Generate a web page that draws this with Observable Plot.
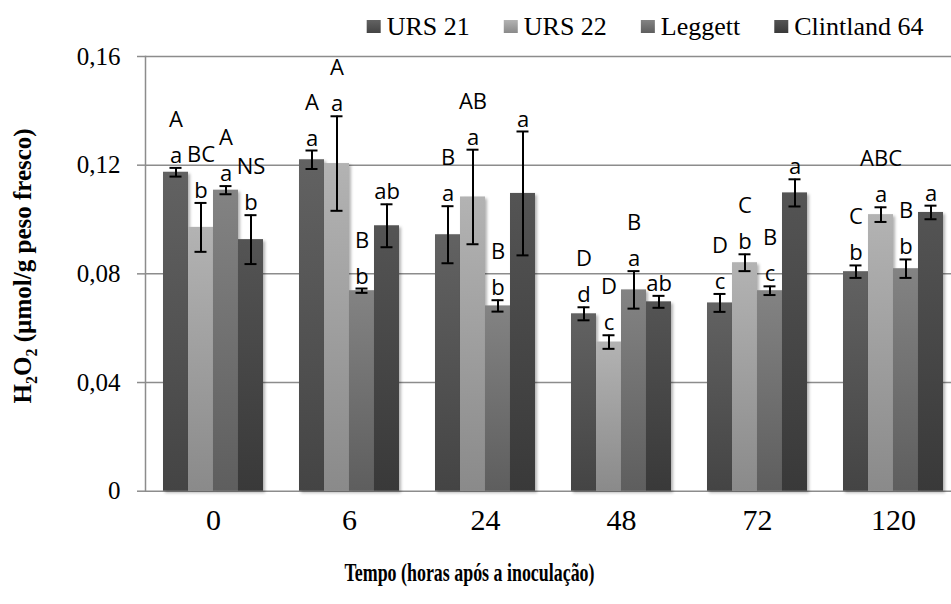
<!DOCTYPE html>
<html><head><meta charset="utf-8">
<script src="https://cdn.jsdelivr.net/npm/d3@7"></script>
<script src="https://cdn.jsdelivr.net/npm/@observablehq/plot@0.6"></script>
<style>
html, body { margin:0; padding:0; background:#fff; }
#chart { width:951px; height:604px; overflow:hidden; position:relative; }
#chart > svg { display:block; }
g[aria-label="bar"] rect { filter: drop-shadow(2px 2px 1.5px rgba(0,0,0,0.3)); }
</style></head>
<body>
<svg width="0" height="0" style="position:absolute">
<defs>
<linearGradient id="g0" x1="0" y1="0" x2="0" y2="1"><stop offset="0" stop-color="#626262"/><stop offset="1" stop-color="#444444"/></linearGradient>
<linearGradient id="g1" x1="0" y1="0" x2="0" y2="1"><stop offset="0" stop-color="#b3b3b3"/><stop offset="1" stop-color="#8a8a8a"/></linearGradient>
<linearGradient id="g2" x1="0" y1="0" x2="0" y2="1"><stop offset="0" stop-color="#838383"/><stop offset="1" stop-color="#5e5e5e"/></linearGradient>
<linearGradient id="g3" x1="0" y1="0" x2="0" y2="1"><stop offset="0" stop-color="#545454"/><stop offset="1" stop-color="#393939"/></linearGradient>
</defs></svg>
<div id="chart"></div>
<script>
// ---- data ----
const times = ["0", "6", "24", "48", "72", "120"];
const series = ["URS 21", "URS 22", "Leggett", "Clintland 64"];

const urs21     = [0.1174, 0.1220, 0.0944, 0.0653, 0.0693, 0.0808];
const urs21Err  = [0.0016, 0.0034, 0.0105, 0.0024, 0.0033, 0.0023];
const urs22     = [0.0971, 0.1206, 0.1083, 0.0549, 0.0841, 0.1018];
const urs22Err  = [0.0090, 0.0174, 0.0174, 0.0025, 0.0031, 0.0027];
const leggett   = [0.1108, 0.0738, 0.0682, 0.0741, 0.0738, 0.0819];
const leggettErr= [0.0015, 0.0008, 0.0021, 0.0069, 0.0016, 0.0034];
const clint     = [0.0926, 0.0977, 0.1096, 0.0697, 0.1098, 0.1026];
const clintErr  = [0.0090, 0.0079, 0.0228, 0.0022, 0.0050, 0.0025];

const urs21Lower   = ["a", "a", "a", "d", "c", "b"];
const urs22Lower   = ["b", "a", "a", "c", "b", "a"];
const leggettLower = ["a", "b", "b", "a", "c", "b"];
const clintLower   = ["b", "ab", "a", "ab", "a", "a"];
const urs21Upper   = ["A", "A", "B", "D", "D", "C"];
const urs22Upper   = ["BC", "A", "AB", "D", "C", "ABC"];
const leggettUpper = ["A", "B", "B", "B", "B", "B"];
const clintUpper   = ["NS", "", "", "", "", ""];

const yTicks = [0, 0.04, 0.08, 0.12, 0.16];
const yTickLabels = ["0", "0,04", "0,08", "0,12", "0,16"];
const yTitle = "H2O2 (µmol/g peso fresco)";
const xTitle = "Tempo (horas após a inoculação)";
const gradUrls = ["url(#g0)", "url(#g1)", "url(#g2)", "url(#g3)"];

const values = [urs21, urs22, leggett, clint];
const errors = [urs21Err, urs22Err, leggettErr, clintErr];
const lowers = [urs21Lower, urs22Lower, leggettLower, clintLower];
const uppers = [urs21Upper, urs22Upper, leggettUpper, clintUpper];

const rows = [];
times.forEach((t, i) => series.forEach((s, j) => rows.push({
  time: t, series: s, value: values[j][i], err: errors[j][i], lower: lowers[j][i], upper: uppers[j][i]
})));

const grid = "#8c8c8c";
const serif = "Liberation Serif";
const chart = document.getElementById("chart");

// legend above the chart: swatch + label per series
const leg = d3.select(chart).append("svg").attr("width", 951).attr("height", 40);
let lx = 366.7;
series.forEach((s, j) => {
  leg.append("rect").attr("x", lx).attr("y", 20).attr("width", 14).attr("height", 13).attr("fill", gradUrls[j]);
  const t = leg.append("text").attr("x", lx + 20).attr("y", 35)
    .attr("font-family", serif).attr("font-size", 26).attr("fill", "black").text(s);
  lx += 20 + t.node().getComputedTextLength() + 34;
});

const plot = Plot.plot({
  width: 951, height: 564,
  marginLeft: 145, marginRight: -10, marginTop: 16, marginBottom: 113.3,
  style: {background: "transparent"},
  fx: {domain: times, paddingInner: 0, paddingOuter: 0, label: null, axis: null},
  x: {domain: series, paddingInner: 0, paddingOuter: 0.72, axis: null},
  y: {domain: [0, 0.16], label: null},
  color: {domain: series, range: gradUrls},
  marks: [
    Plot.ruleY(yTicks, {stroke: grid, strokeWidth: 1.5}),
    Plot.frame({anchor: "left", stroke: grid, strokeWidth: 1.5, facet: "super"}),
    Plot.barY(rows, {fx: "time", x: "series", y: "value", fill: "series"}),
    Plot.ruleX(rows, {fx: "time", x: "series", y1: d => d.value - d.err, y2: d => d.value + d.err, stroke: "black", strokeWidth: 2}),
    Plot.tickY(rows, {fx: "time", x: "series", y: d => d.value + d.err, stroke: "black", strokeWidth: 2, insetLeft: 6.5, insetRight: 6.5}),
    Plot.tickY(rows, {fx: "time", x: "series", y: d => d.value - d.err, stroke: "black", strokeWidth: 2, insetLeft: 6.5, insetRight: 6.5}),
    Plot.text(rows, {fx: "time", x: "series", y: d => d.value + d.err, text: "lower", dy: -12, fontFamily: "Open Sans", fontSize: 22, fill: "black"}),
    Plot.text(rows, {fx: "time", x: "series", y: d => d.value + d.err, text: "upper", dy: -48, fontFamily: "Open Sans", fontSize: 22, fill: "black"}),
    // y axis: tick marks from the axis, labels as a text mark in the first facet
    Plot.axisY({ticks: yTicks, tickFormat: () => "", tickSize: 8, stroke: grid, strokeWidth: 1.5, label: null}),
    Plot.text(yTicks, {fx: () => times[0], y: d => d, text: d => yTickLabels[yTicks.indexOf(d)], frameAnchor: "left", textAnchor: "end", dx: -25, fontSize: 25, fontFamily: serif, fill: "black"}),
    // category labels under each group
    Plot.text(times, {fx: d => d, text: d => d, frameAnchor: "bottom", textAnchor: "middle", dy: 39, fontSize: 30, fontFamily: serif, fill: "black"}),
    Plot.text([yTitle], {frameAnchor: "left", textAnchor: "middle", rotate: -90, dx: -123, dy: -8, fontSize: 25, fontWeight: "bold", fontFamily: serif, fill: "black", facet: "super"}),
    Plot.text([xTitle], {frameAnchor: "bottom-left", textAnchor: "start", dx: 199, dy: 90, fontSize: 25, fontWeight: "bold", fontFamily: serif, fill: "black", facet: "super"})
  ]
});
chart.appendChild(plot);

// subscripts in the y title; condensed x title as in the reference
plot.querySelectorAll("text").forEach(t => {
  if (t.textContent === yTitle) {
    while (t.firstChild) t.removeChild(t.firstChild);
    const ns = "http://www.w3.org/2000/svg";
    const parts = [["H", 0], ["2", 1], ["O", 0], ["2", 1], [" (µmol/g peso fresco)", 0]];
    let shifted = false;
    parts.forEach(([s, sub]) => {
      const ts = document.createElementNS(ns, "tspan");
      ts.textContent = s;
      if (sub) { ts.setAttribute("font-size", "16"); ts.setAttribute("dy", "6"); shifted = true; }
      else if (shifted) { ts.setAttribute("dy", "-6"); shifted = false; }
      t.appendChild(ts);
    });
  } else if (t.textContent === xTitle) {
    t.setAttribute("textLength", "250");
    t.setAttribute("lengthAdjust", "spacingAndGlyphs");
  }
});
</script>
</body></html>
